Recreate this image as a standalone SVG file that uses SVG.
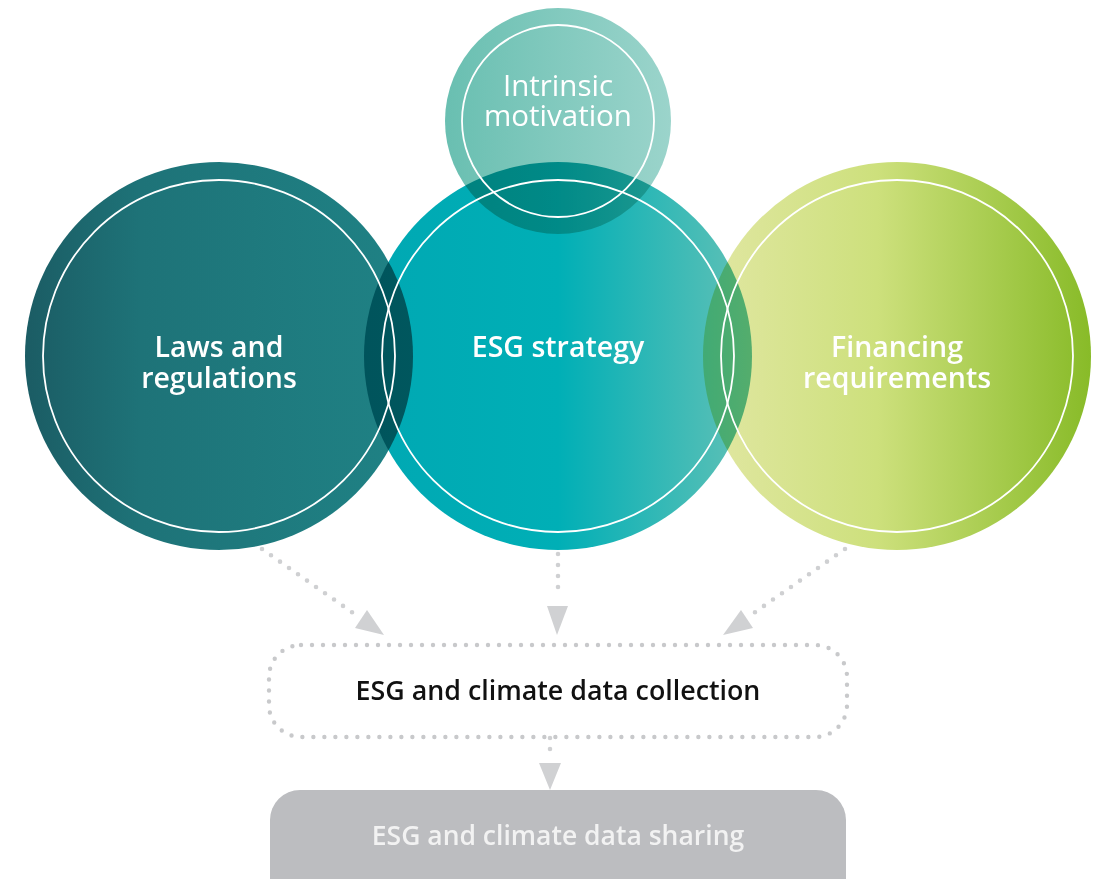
<svg xmlns="http://www.w3.org/2000/svg" width="1096" height="879" viewBox="0 0 1096 879">
  <defs>
    <linearGradient id="gLaws" x1="0" y1="0" x2="1" y2="0">
      <stop offset="0" stop-color="#1b5c64"/>
      <stop offset="0.3" stop-color="#1e7378"/>
      <stop offset="1" stop-color="#1f8285"/>
    </linearGradient>
    <linearGradient id="gStrategy" x1="0" y1="0" x2="1" y2="0">
      <stop offset="0" stop-color="#00a8b3"/>
      <stop offset="0.5" stop-color="#00afb6"/>
      <stop offset="1" stop-color="#62c1b6"/>
    </linearGradient>
    <linearGradient id="gFinance" x1="0" y1="0" x2="1" y2="0">
      <stop offset="0" stop-color="#e1e7a3"/>
      <stop offset="0.45" stop-color="#cde07c"/>
      <stop offset="1" stop-color="#88bb28"/>
    </linearGradient>
    <linearGradient id="gMotivation" x1="0" y1="0" x2="1" y2="0">
      <stop offset="0" stop-color="#69bfb1"/>
      <stop offset="1" stop-color="#9bd4cb"/>
    </linearGradient>
    <style>
      .disc { mix-blend-mode: multiply; }
      .ring { fill: none; stroke: #ffffff; stroke-width: 1.8; }
      .label { font-family: "Open Sans", "Noto Sans", sans-serif; fill: #ffffff; text-anchor: middle; }
      .big { font-size: 28.5px; font-weight: 600; }
      .soft { font-size: 29.5px; font-weight: 500; }
      .dots { fill: none; stroke: #cfd0d2; stroke-width: 4.6; stroke-linecap: round; stroke-dasharray: 0 11; }
      .head { fill: #d0d1d3; }
      .box-text { font-family: "Open Sans", "Noto Sans", sans-serif; text-anchor: middle; font-weight: 600; }
    </style>
  </defs>

  <rect width="1096" height="879" fill="#ffffff"/>

  <g style="isolation:isolate">
    <!-- filled discs, multiplied where they overlap -->
    <g id="laws-and-regulations">
      <circle class="disc" cx="219" cy="356" r="194" fill="url(#gLaws)"/>
    </g>
    <g id="esg-strategy">
      <circle class="disc" cx="558" cy="356" r="194" fill="url(#gStrategy)"/>
    </g>
    <g id="financing-requirements">
      <circle class="disc" cx="897" cy="356" r="194" fill="url(#gFinance)"/>
    </g>
    <g id="intrinsic-motivation">
      <circle class="disc" cx="558" cy="121" r="113" fill="url(#gMotivation)"/>
    </g>
  </g>

  <!-- inner white rings and labels -->
  <g id="rings">
    <circle class="ring" cx="219" cy="356" r="176"/>
    <circle class="ring" cx="558" cy="356" r="176"/>
    <circle class="ring" cx="897" cy="356" r="176"/>
    <circle class="ring" cx="558" cy="121" r="96"/>
  </g>
  <g id="labels">
    <text class="label big" x="219" y="357">Laws and</text>
    <text class="label big" x="219" y="388">regulations</text>
    <text class="label big" x="558" y="357">ESG strategy</text>
    <text class="label big" x="897" y="357">Financing</text>
    <text class="label big" x="897" y="388">requirements</text>
    <text class="label soft" x="558" y="96">Intrinsic</text>
    <text class="label soft" x="558" y="126">motivation</text>
  </g>

  <!-- dotted connectors with triangular heads -->
  <g id="connectors">
    <path class="dots" d="M262 549 L356 615"/>
    <polygon class="head" points="367,610 355,628 384,635"/>
    <path class="dots" d="M558 554 L558 598"/>
    <polygon class="head" points="547,606 568,606 557,635"/>
    <path class="dots" d="M845 549 L751 615"/>
    <polygon class="head" points="741,610 753,628 723,635"/>
    <path class="dots" d="M550 738 L550 760"/>
    <polygon class="head" points="539,763 561,763 550,790"/>
  </g>

  <g id="data-collection">
    <rect x="269" y="645" width="578" height="92" rx="32" ry="32" fill="none" stroke="#c8c9cb" stroke-width="4.4" stroke-linecap="round" stroke-dasharray="0 11"/>
    <text class="box-text" x="558" y="700" font-size="26.8" fill="#111111">ESG and climate data collection</text>
  </g>

  <g id="data-sharing">
    <rect x="270" y="790" width="576" height="120" rx="30" ry="30" fill="#bcbdc0"/>
    <text class="box-text" x="558" y="845" font-size="26.5" fill="#f2f2f2">ESG and climate data sharing</text>
  </g>
</svg>
